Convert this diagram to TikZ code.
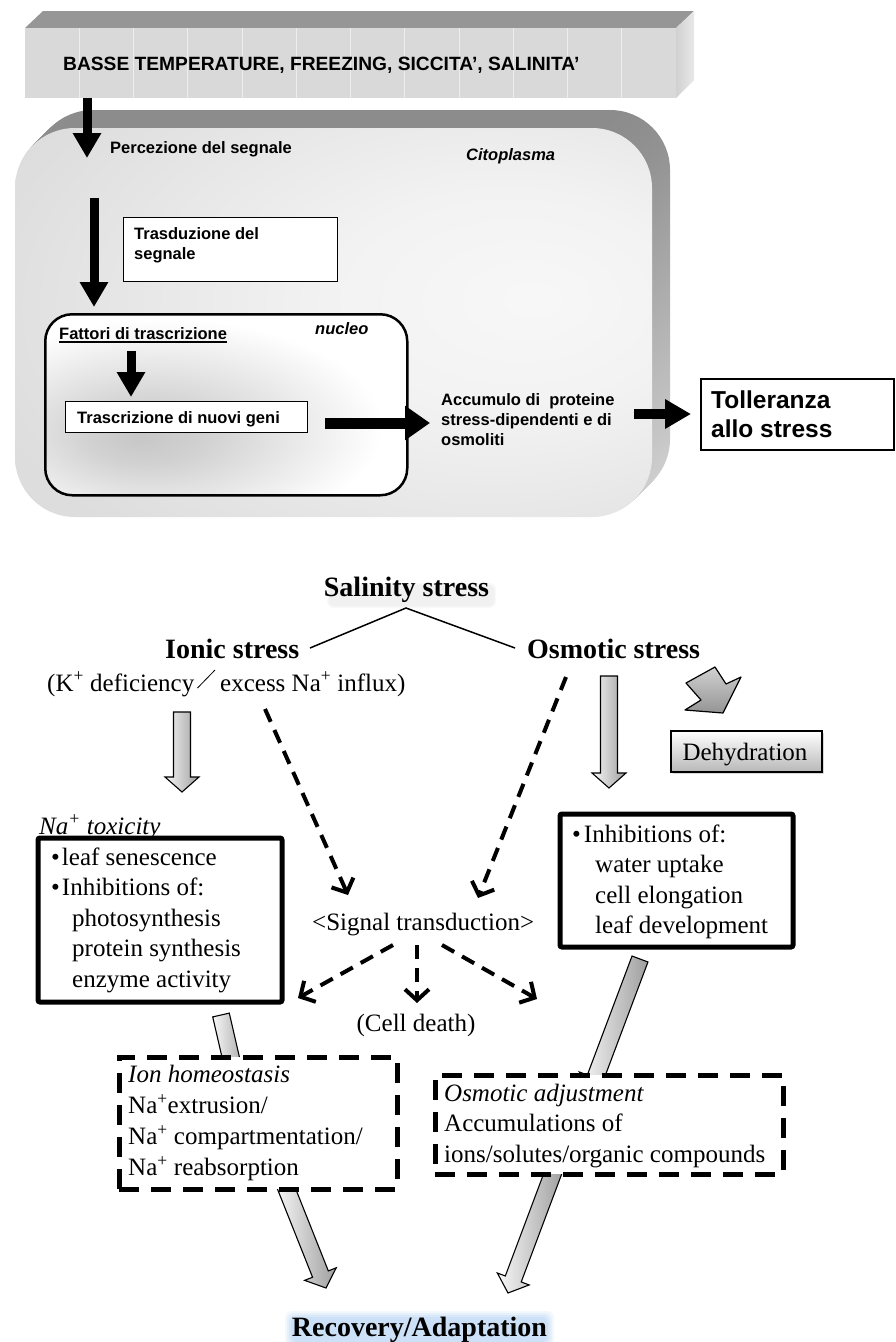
\documentclass[tikz,border=0pt]{standalone}
\usepackage{fontspec}
\setmainfont{Liberation Serif}
\newfontfamily\arialf{Liberation Sans}
\usetikzlibrary{arrows.meta,calc,shadows}
\definecolor{glowblue}{RGB}{140,190,240}
\pgfdeclareradialshading{cellshade}{\pgfpoint{16bp}{3bp}}{color(0bp)=(white!97!black); color(14bp)=(white!95!black); color(38bp)=(white!87!black); color(60bp)=(white!83!black); color(100bp)=(white!80!black)}
\pgfdeclareradialshading{nucshade}{\pgfpoint{-12bp}{-9bp}}{color(0bp)=(white!78!black); color(8bp)=(white!82!black); color(30bp)=(white); color(100bp)=(white)}
\newcommand{\gblock}[2]{%
  \coordinate (hb) at ($(#2)!15pt!(#1)$);
  \path[garrow] ($(#1)!8.5pt!90:(#2)$) -- ($(hb)!8.5pt!90:(#2)$) -- ($(hb)!17pt!90:(#2)$) -- (#2) -- ($(hb)!17pt!-90:(#2)$) -- ($(hb)!8.5pt!-90:(#2)$) -- ($(#1)!8.5pt!-90:(#2)$) -- cycle;}
\begin{document}
\begin{tikzpicture}[x=1pt,y=-1pt,
  tx/.style={inner sep=0pt, anchor=base west, font=\arialf\bfseries\fontsize{16.5}{20}\selectfont},
  txml/.style={inner sep=0pt, anchor=north west, align=left, font=\arialf\bfseries\fontsize{16.5}{20}\selectfont},
  blackarr/.style={line width=9pt, -{Triangle[width=27pt,length=25pt]}},
  thinbox/.style={draw, line width=1.2pt, fill=white, inner sep=0pt, anchor=north west},
  sr/.style={inner sep=0pt, anchor=base west, font=\fontsize{25}{30.5}\selectfont},
  srml/.style={inner sep=0pt, anchor=north west, align=left, font=\fontsize{25}{30.5}\selectfont},
  bigb/.style={inner sep=0pt, anchor=base, font=\bfseries\fontsize{28}{32}\selectfont},
  solidbox/.style={draw, line width=5pt, fill=white, rounded corners=2pt, inner sep=0pt, anchor=north west},
  dashbox/.style={draw, line width=5pt, fill=white, dash pattern=on 20pt off 12pt, inner sep=0pt, anchor=north west},
  dasharr/.style={line width=4pt, dash pattern=on 14pt off 9pt, -{Straight Barb[length=11pt,width=24pt]}},
  garrow/.style={draw=black, line width=1.1pt, left color=white!97!black, right color=white!62!black},
]
\useasboundingbox (0,0) rectangle (896,1342);
\fill[white] (0,0) rectangle (896,1342);

% ---------- top bar ----------
\fill[white!59!black] (25,28) -- (43,11) -- (694,11) -- (676,28) -- cycle;
\shade[left color=white!82!black, right color=white!91!black] (676,28) -- (694,11) -- (694,80) -- (676,98) -- cycle;
\node[fill=white!85!black, minimum width=651pt, minimum height=70pt, inner sep=0pt, anchor=north west] (bar) at (25,28) {};
\foreach \k in {1,...,11} \draw[white!93!black, line width=1pt] ({25+54.25*\k},28) -- ({25+54.25*\k},98);
\node[tx, font=\arialf\bfseries\fontsize{19.2}{22}\selectfont] (basse) at (63,70) {BASSE TEMPERATURE, FREEZING, SICCITA’, SALINITA’};

% ---------- cell ----------
\foreach \i in {18,...,1} \shade[top color=black!45, bottom color=black!17, rounded corners=60pt] (15+\i,128-\i) rectangle (652+\i,517-\i);
\shade[shading=cellshade, rounded corners=60pt] (15,128) rectangle (652,517);

\coordinate (a1s) at (87,98); \coordinate (a1e) at (87,158);
\draw[blackarr] (a1s) -- (a1e);
\node[tx] (percez) at (110,153) {Percezione del segnale};
\node[tx, font=\arialf\bfseries\itshape\fontsize{16.5}{20}\selectfont] (citop) at (466,160) {Citoplasma};

\node[thinbox, minimum width=214pt, minimum height=64pt] (trasdbox) at (123,217) {};
\node[txml] (trasd) at (134,225) {\strut Trasduzione del\\segnale};

\coordinate (a2s) at (94,198); \coordinate (a2e) at (94,307);
\draw[blackarr] (a2s) -- (a2e);

\node[draw, line width=2.5pt, rounded corners=27pt, shading=nucshade, minimum width=362pt, minimum height=181pt, inner sep=0pt, anchor=north west] (nucleus) at (44,313) {};
\node[tx] (fattori) at (59,339) {Fattori di trascrizione};
\draw[line width=1.2pt] ([yshift=-3pt]fattori.base west) -- ([yshift=-3pt]fattori.base east);
\node[tx, font=\arialf\bfseries\itshape\fontsize{16.5}{20}\selectfont] (nucleo) at (315,334) {nucleo};
\coordinate (a3s) at (131,351); \coordinate (a3e) at (131,397);
\draw[blackarr] (a3s) -- (a3e);
\node[thinbox, minimum width=242pt, minimum height=31pt] (trascrbox) at (65,401) {};
\node[tx] (trascr) at (77,423) {Trascrizione di nuovi geni};

\coordinate (a4s) at (325,423); \coordinate (a4e) at (430,423);
\draw[blackarr, line width=11pt, -{Triangle[width=33pt,length=25pt]}] (a4s) -- (a4e);
\node[txml] (accum) at (441,391) {\strut Accumulo di \ proteine\\stress-dipendenti e di\\osmoliti};
\coordinate (a5s) at (634,414); \coordinate (a5e) at (691,414);
\draw[blackarr, line width=10pt, -{Triangle[width=28pt,length=26pt]}] (a5s) -- (a5e);
\node[thinbox, line width=1.5pt, minimum width=193pt, minimum height=71pt] (tollbox) at (700,378) {};
\node[inner sep=0pt, anchor=north west, align=left, font=\arialf\bfseries\fontsize{24.5}{29.5}\selectfont] (toll) at (711,387.35) {\strut Tolleranza\\allo stress};

% ---------- bottom diagram ----------
\foreach \r/\o in {3/0.025,1.5/0.03} \fill[black, opacity=\o, rounded corners=6pt] (330-\r,586-\r) rectangle (493+\r,605+\r);
\node[bigb] (salin) at (406.5,596) {Salinity stress};
\coordinate (apex) at (406,608); \coordinate (ionend) at (310,648); \coordinate (osmend) at (515,648);
\draw[line width=1.5pt] (ionend) -- (apex) -- (osmend);
\node[bigb, anchor=base west] (ionic) at (165,658) {Ionic stress};
\node[bigb, anchor=base west] (osmotic) at (527,658) {Osmotic stress};
\node[sr] (kdef) at (47,691) {(K\textsuperscript{+} deficiency};
\node[sr] (excess) at (220,691) {excess Na\textsuperscript{+} influx)};
\draw[line width=0.8pt] ($(kdef.base east)+(3,-3)$) -- ($(excess.base west)+(-5,-21)$);

\draw[line width=1.2pt, top color=white!82!black, bottom color=white!58!black, line join=round] (686,683) -- (715,667) -- (726,684) -- (741,677) -- (723,713) -- (685,710) -- (701,700) -- cycle;
\node[draw, line width=2pt, top color=white, bottom color=white!72!black, drop shadow={shadow xshift=2pt, shadow yshift=-2pt, opacity=0.3}, minimum width=151pt, minimum height=41pt, inner sep=0pt, anchor=north west] (dehydbox) at (670,730) {};
\node[sr, anchor=base] (dehyd) at (745,760) {Dehydration};

\coordinate (g1s) at (182,712); \coordinate (g1e) at (182,792); \gblock{g1s}{g1e}
\coordinate (g2s) at (609,676); \coordinate (g2e) at (609,788); \gblock{g2s}{g2e}

\coordinate (d1s) at (265,709); \coordinate (d1e) at (348,895); \draw[dasharr] (d1s) -- (d1e);
\coordinate (d2s) at (566,677); \coordinate (d2e) at (478,898); \draw[dasharr] (d2s) -- (d2e);
\node[sr] (signal) at (312,930) {<Signal transduction>};
\coordinate (d3s) at (393,945); \coordinate (d3e) at (298,998); \draw[dasharr] (d3s) -- (d3e);
\coordinate (d4s) at (417,945); \coordinate (d4e) at (417,1003); \draw[dasharr] (d4s) -- (d4e);
\coordinate (d5s) at (442,945); \coordinate (d5e) at (537,999); \draw[dasharr] (d5s) -- (d5e);
\node[sr, anchor=base] (death) at (416,1031) {(Cell death)};

\node[sr, font=\itshape\fontsize{25}{30.5}\selectfont] (natoxlbl) at (39,834) {Na\textsuperscript{+} toxicity};
\node[solidbox, minimum width=244pt, minimum height=164pt] (natox) at (35.5,835.5) {};
\node[srml] (natoxtxt) at (51,843.65) {\strut\textbullet\hspace{2pt}leaf senescence\\\textbullet\hspace{2pt}Inhibitions of:\\\hspace*{21pt}photosynthesis\\\hspace*{21pt}protein synthesis\\\hspace*{21pt}enzyme activity};

\node[solidbox, minimum width=233pt, minimum height=133pt] (inhib) at (557.5,811.5) {};
\node[srml] (inhibtxt) at (572,820.65) {\strut\textbullet\hspace{3pt}Inhibitions of:\\\hspace*{23pt}water uptake\\\hspace*{23pt}cell elongation\\\hspace*{23pt}leaf development};

\coordinate (g3s) at (221,1015); \coordinate (g3e) at (236,1080); \gblock{g3s}{g3e}
\coordinate (g4s) at (640,959); \coordinate (g4e) at (590,1092); \gblock{g4s}{g4e}
\coordinate (g5s) at (283,1180); \coordinate (g5e) at (326,1288); \gblock{g5s}{g5e}
\coordinate (g6s) at (556,1165); \coordinate (g6e) at (508,1293); \gblock{g6s}{g6e}

\node[dashbox, minimum width=278pt, minimum height=132pt] (ionbox) at (116.5,1054.5) {};
\node[srml, font=\fontsize{25}{31}\selectfont] (iontxt) at (128,1060.3) {\strut\textit{Ion homeostasis}\\Na\textsuperscript{+}extrusion/\\Na\textsuperscript{+} compartmentation/\\Na\textsuperscript{+} reabsorption};
\node[dashbox, minimum width=348pt, minimum height=99pt] (osmbox) at (432.5,1072.5) {};
\node[srml] (osmtxt) at (444,1079.65) {\strut\textit{Osmotic adjustment}\\Accumulations of\\ions/solutes/organic compounds};

\foreach \r/\o in {8/0.10,6/0.12,4/0.14,2/0.16} \fill[glowblue, opacity=\o, rounded corners=7pt] (293-\r,1319-\r) rectangle (546+\r,1340+\r);
\node[bigb] (recov) at (419.5,1336) {Recovery/Adaptation};
\end{tikzpicture}
\end{document}
